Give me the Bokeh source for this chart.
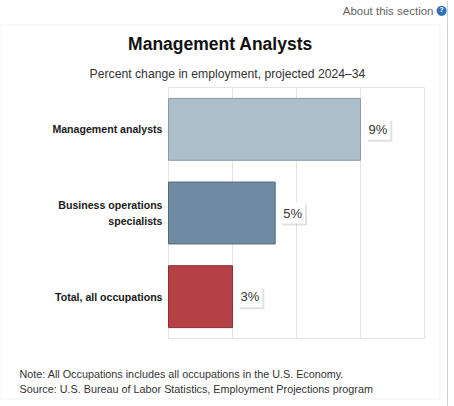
from bokeh.plotting import figure
from bokeh.models import ColumnDataSource, Range1d, Label, BoxAnnotation
from bokeh.core.properties import value
from bokeh.embed import file_html
from bokeh.resources import INLINE

# ---- data ----
categories = ["Management analysts", "Business operations\nspecialists", "Total, all occupations"]
values = [9, 5, 3]
value_labels = ["9%", "5%", "3%"]
bar_colors = ["#adbecb", "#6f8ba3", "#b54146"]
bar_lines = ["#8c9aa5", "#56697a", "#8a2f33"]
grid_ticks = [0, 3, 6, 9, 12]

title_text = "Management Analysts"
subtitle_text = "Percent change in employment, projected 2024\u201334"
note_text = "Note: All Occupations includes all occupations in the U.S. Economy."
source_text = "Source: U.S. Bureau of Labor Statistics, Employment Projections program"
about_text = "About this section"

n = len(categories)
ypos = list(range(n))[::-1]          # first category on top
src = ColumnDataSource(dict(y=ypos, cat=categories, val=values, lbl=value_labels,
                            color=bar_colors, line=bar_lines))

# ---- layout (page pixels) ----
W, H = 454, 406
plot_left, plot_right, plot_top, plot_bottom = 168, 424, 87, 338
x_min, x_max = grid_ticks[0], grid_ticks[-1]
px_x = (plot_right - plot_left) / (x_max - x_min)
px_y = (plot_bottom - plot_top) / n
x_range = Range1d(x_min - plot_left / px_x, x_max + (W - plot_right) / px_x)
y_range = Range1d(-0.5 - (H - plot_bottom) / px_y, n - 0.5 + plot_top / px_y)

p = figure(width=W, height=H, x_range=x_range, y_range=y_range,
           output_backend="svg", toolbar_location=None,
           min_border=0, min_border_left=0, min_border_right=0,
           min_border_top=0, min_border_bottom=0)
p.axis.visible = False
p.grid.grid_line_color = None
p.outline_line_color = None
p.background_fill_color = "white"
p.border_fill_color = "white"

# plot area frame and vertical grid lines
p.quad(left=x_min, right=x_max, bottom=-0.5, top=n - 0.5,
       fill_color=None, line_color="#e4e4e4", line_width=1)
p.segment(x0=grid_ticks, x1=grid_ticks, y0=[-0.5] * len(grid_ticks),
          y1=[n - 0.5] * len(grid_ticks), line_color="#e4e4e4", line_width=1)

# bars
p.hbar(y="y", right="val", left=0, height=0.74, fill_color="color",
       line_color="line", line_width=1, source=src)

# category labels
p.text(x=0, y="y", text="cat", source=src, x_offset=-6, text_align="right",
       text_baseline="middle", text_font=value("Liberation Sans"),
       text_font_style="bold", text_font_size="10.6px", text_color="#1a1a1a",
       text_line_height=1.35)

# value label boxes with shadow
p.text(x="val", y="y", text="lbl", source=src, x_offset=7, y_offset=2,
       text_baseline="middle", text_font=value("Liberation Sans"), text_font_size="13px",
       text_alpha=0, background_fill_color="#777777", background_fill_alpha=0.22,
       padding=3)
p.text(x="val", y="y", text="lbl", source=src, x_offset=5,
       text_baseline="middle", text_font=value("Liberation Sans"), text_font_size="13px",
       text_color="#333333", background_fill_color="white", padding=3)

# panel border and side line (screen units: from bottom-left of canvas)
p.add_layout(BoxAnnotation(left=0.5, right=439.5, bottom=H - 398.5, top=H - 24.5,
                           left_units="screen", right_units="screen",
                           top_units="screen", bottom_units="screen",
                           fill_alpha=0, line_color="#d6d6d6", line_width=1))
p.add_layout(BoxAnnotation(left=446.5, right=447.5, bottom=0, top=H,
                           left_units="screen", right_units="screen",
                           top_units="screen", bottom_units="screen",
                           fill_color="#d0d0d0", fill_alpha=1, line_alpha=0))

def lab(x, y_from_top, text, **kw):
    p.add_layout(Label(x=x, y=H - y_from_top, x_units="screen", y_units="screen",
                       text=text, **kw))

lab(220, 43, title_text, text_align="center", text_baseline="middle",
    text_font="Liberation Sans", text_font_style="bold", text_font_size="17.5px",
    text_color="#111111")
lab(227, 73, subtitle_text, text_align="center", text_baseline="middle",
    text_font="Liberation Sans", text_font_size="12.2px", text_color="#333333")
lab(19, 373, note_text, text_align="left", text_baseline="middle",
    text_font="Liberation Sans", text_font_size="10.8px", text_color="#333333")
lab(19, 388, source_text, text_align="left", text_baseline="middle",
    text_font="Liberation Sans", text_font_size="10.8px", text_color="#333333")
lab(433, 10, about_text, text_align="right", text_baseline="alphabetic",
    text_font="Liberation Sans", text_font_size="11.5px", text_color="#666666")
lab(441, 9, "\u25cf", text_align="center", text_baseline="middle",
    text_font="DejaVu Sans", text_font_size="13px", text_color="#2f6db5")
lab(441, 9, "?", text_align="center", text_baseline="middle",
    text_font="Liberation Sans", text_font_style="bold", text_font_size="7.5px",
    text_color="white")

open("out.html", "w").write(file_html(p, INLINE))
